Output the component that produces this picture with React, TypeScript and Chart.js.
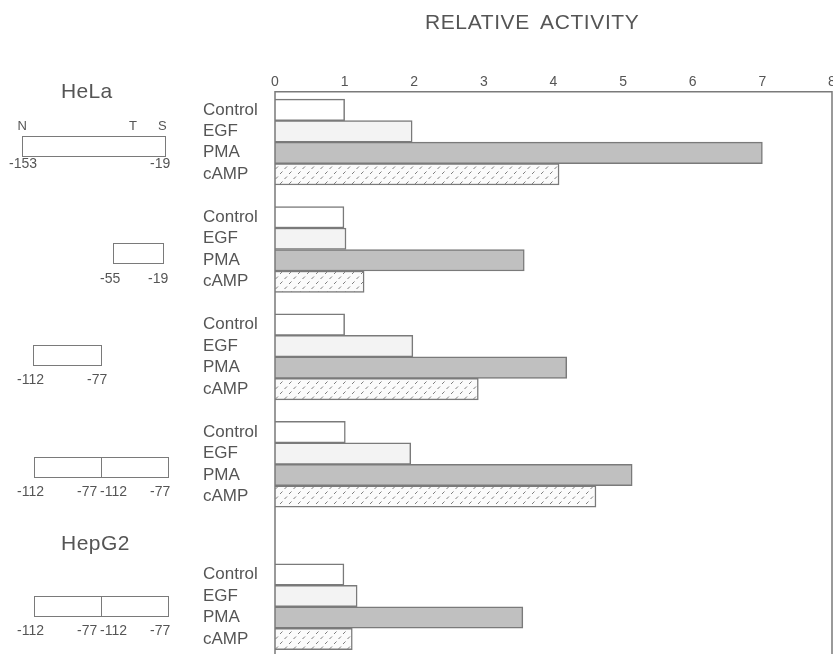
import React, { useEffect, useRef } from "react";
import { Chart, registerables } from "chart.js";

Chart.register(...registerables);

// ---------- data ----------
const treatments = ["Control", "EGF", "PMA", "cAMP"];
const constructs = ["-153/-19", "-55/-19", "-112/-77", "(-112/-77)x2", "HepG2 (-112/-77)x2"];
const controlValues = [1.0, 0.99, 1.0, 1.01, 0.99];
const egfValues = [1.97, 1.02, 1.98, 1.95, 1.18];
const pmaValues = [7.0, 3.58, 4.19, 5.13, 3.56];
const campValues = [4.08, 1.28, 2.92, 4.61, 1.11];
const xTickValues = [0, 1, 2, 3, 4, 5, 6, 7, 8];

// ---------- layout constants ----------
const W = 833;
const H = 654;
const GROUP_START_ROW = [0, 5, 10, 15, 21.63];
const Y_MIN = -0.84;
const Y_MAX = 25.33;
const FONT = "'Liberation Sans', Arial, Helvetica, sans-serif";
const TEXT = "#555555";
const LINE = "#7a7a7a";

function makeCampPattern(): CanvasPattern | string {
  const c = document.createElement("canvas");
  c.width = 9;
  c.height = 10;
  const g = c.getContext("2d");
  if (!g) return "#eeeeee";
  g.fillStyle = "#fbfbfb";
  g.fillRect(0, 0, 9, 10);
  g.strokeStyle = "#7e7e7e";
  g.lineWidth = 1;
  g.beginPath();
  g.moveTo(1, 4);
  g.lineTo(3.5, 1.5);
  g.moveTo(5.5, 9);
  g.lineTo(8, 6.5);
  g.stroke();
  const p = g.createPattern(c, "repeat");
  return p || "#eeeeee";
}

const frame = {
  id: "frame",
  afterDatasetsDraw(chart: any) {
    const { ctx, chartArea } = chart;
    ctx.save();
    ctx.strokeStyle = LINE;
    ctx.lineWidth = 1.5;
    ctx.beginPath();
    ctx.moveTo(chartArea.left, chartArea.bottom);
    ctx.lineTo(chartArea.left, chartArea.top);
    ctx.lineTo(chartArea.right, chartArea.top);
    ctx.lineTo(chartArea.right, chartArea.bottom);
    ctx.stroke();
    ctx.restore();
  },
};

function Txt(props: { x: number; cy: number; fs: number; ls?: number; ws?: number; children: any }) {
  const { x, cy, fs, ls, ws, children } = props;
  return (
    <div
      style={{
        position: "absolute",
        left: x,
        top: cy - fs / 2,
        fontSize: fs,
        lineHeight: fs + "px",
        fontFamily: FONT,
        color: TEXT,
        whiteSpace: "nowrap",
        letterSpacing: ls ?? 0,
        wordSpacing: ws ?? 0,
      }}
    >
      {children}
    </div>
  );
}

function Box(props: { x: number; y: number; w: number; h: number; divider?: number }) {
  const { x, y, w, h, divider } = props;
  return (
    <div
      style={{
        position: "absolute",
        left: x,
        top: y,
        width: w,
        height: h,
        border: `1.5px solid ${LINE}`,
        boxSizing: "border-box",
      }}
    >
      {divider !== undefined ? (
        <div
          style={{
            position: "absolute",
            left: divider - x - 1.5,
            top: 0,
            width: 0,
            height: "100%",
            borderLeft: `1.5px solid ${LINE}`,
          }}
        />
      ) : null}
    </div>
  );
}

export default function App() {
  const ref = useRef<HTMLCanvasElement | null>(null);

  useEffect(() => {
    document.body.style.margin = "0";
    const canvas = ref.current;
    if (!canvas) return;

    const series = [controlValues, egfValues, pmaValues, campValues];
    const fills: any[] = ["#ffffff", "#f3f3f3", "#c0c0c0", makeCampPattern()];
    const positions: number[] = [];
    constructs.forEach((_, gi) => treatments.forEach((_t, ti) => positions.push(GROUP_START_ROW[gi] + ti)));

    const datasets = treatments.map((t, ti) => ({
      label: t,
      data: series[ti].map((v, gi) => ({ x: v, y: GROUP_START_ROW[gi] + ti })),
      backgroundColor: fills[ti],
      borderColor: LINE,
      borderWidth: 1.5,
      grouped: false,
      categoryPercentage: 1,
      barPercentage: 1,
    }));

    const chart = new Chart(canvas, {
      type: "bar",
      data: { datasets: datasets as any },
      options: {
        animation: false,
        responsive: false,
        indexAxis: "y",
        datasets: { bar: { categoryPercentage: 1, barPercentage: 1, grouped: false } },
        layout: { padding: { top: 73, left: 203, right: 1, bottom: 0 } },
        plugins: {
          legend: { display: false },
          tooltip: { enabled: false },
          title: { display: false },
        },
        scales: {
          x: {
            type: "linear",
            position: "top",
            min: 0,
            max: 8,
            offset: false,
            grid: { display: false, drawTicks: false, tickLength: 0 },
            border: { display: false },
            afterBuildTicks: (scale: any) => {
              scale.ticks = xTickValues.map((v) => ({ value: v }));
            },
            afterFit: (scale: any) => {
              scale.paddingLeft = 0;
              scale.paddingRight = 0;
            },
            ticks: {
              padding: 1,
              color: TEXT,
              font: { family: FONT, size: 14 },
              maxRotation: 0,
              autoSkip: false,
            },
          },
          y: {
            type: "linear",
            position: "left",
            reverse: true,
            offset: false,
            min: Y_MIN,
            max: Y_MAX,
            grid: { display: false, drawTicks: false, tickLength: 0, offset: false },
            border: { display: false },
            afterBuildTicks: (scale: any) => {
              scale.ticks = positions.map((v) => ({ value: v }));
            },
            afterFit: (scale: any) => {
              scale.width = 72;
              scale.paddingTop = 0;
              scale.paddingBottom = 0;
            },
            ticks: {
              crossAlign: "far",
              autoSkip: false,
              color: TEXT,
              font: { family: FONT, size: 17 },
              callback: (value: any) => {
                const idx = positions.findIndex((p) => Math.abs(p - Number(value)) < 1e-6);
                return idx >= 0 ? treatments[idx % 4] : "";
              },
            },
          },
        },
      } as any,
      plugins: [frame],
    });

    return () => chart.destroy();
  }, []);

  return (
    <div style={{ position: "absolute", left: 0, top: 0, width: W, height: H, background: "#fff", overflow: "hidden" }}>
      <canvas ref={ref} width={W} height={H} style={{ position: "absolute", left: 0, top: 0, width: W, height: H }} />

      <Txt x={425} cy={21} fs={21} ls={0.6} ws={5}>RELATIVE ACTIVITY</Txt>

      <Txt x={61} cy={90.5} fs={21} ls={0.3}>HeLa</Txt>
      <Txt x={17.5} cy={125} fs={13}>N</Txt>
      <Txt x={129} cy={125} fs={13}>T</Txt>
      <Txt x={158} cy={125} fs={13}>S</Txt>
      <Box x={22} y={136} w={144} h={21} />
      <Txt x={9} cy={163} fs={14}>-153</Txt>
      <Txt x={150} cy={163} fs={14}>-19</Txt>

      <Box x={112.7} y={243.3} w={51.3} h={21} />
      <Txt x={100} cy={278} fs={14}>-55</Txt>
      <Txt x={148} cy={278} fs={14}>-19</Txt>

      <Box x={33.3} y={345} w={68.4} h={21} />
      <Txt x={17} cy={379} fs={14}>-112</Txt>
      <Txt x={87} cy={379} fs={14}>-77</Txt>

      <Box x={34} y={457.3} w={135.3} h={21} divider={101.7} />
      <Txt x={17} cy={491} fs={14}>-112</Txt>
      <Txt x={77} cy={491} fs={14}>-77</Txt>
      <Txt x={100} cy={491} fs={14}>-112</Txt>
      <Txt x={150} cy={491} fs={14}>-77</Txt>

      <Txt x={61} cy={542} fs={21} ls={0.5}>HepG2</Txt>

      <Box x={34} y={596} w={135.3} h={21} divider={101.7} />
      <Txt x={17} cy={630} fs={14}>-112</Txt>
      <Txt x={77} cy={630} fs={14}>-77</Txt>
      <Txt x={100} cy={630} fs={14}>-112</Txt>
      <Txt x={150} cy={630} fs={14}>-77</Txt>
    </div>
  );
}
